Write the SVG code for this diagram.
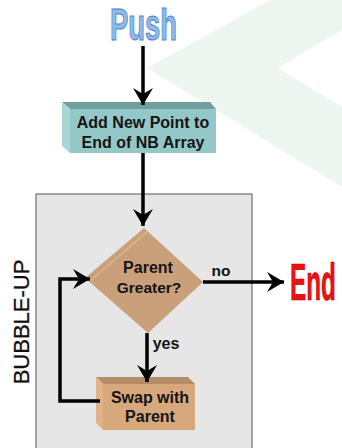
<svg xmlns="http://www.w3.org/2000/svg" width="342" height="448" viewBox="0 0 342 448">
<style>
.lbl{font-family:"Liberation Sans",Arial,sans-serif;font-weight:bold;fill:#141414;text-anchor:middle}
.conn{stroke:#000;stroke-width:3.5;fill:none}
.title{font-family:"Liberation Sans Narrow","Liberation Sans",Arial,sans-serif;font-weight:bold}
</style>
<defs>
<marker id="ah" markerUnits="userSpaceOnUse" markerWidth="24" markerHeight="24" viewBox="-18 -12 20 24" refX="0" refY="0" orient="auto">
<path d="M0,0 L-17,-10 L-11,0 L-17,10 Z" fill="#000"/>
</marker>
</defs>
<rect width="342" height="448" fill="#fff"/>
<g id="background">
<path d="M147,68 L270,0 L342,0 L342,30 L278,68 L342,107 L342,187 Z" fill="#eef6f1"/>
</g>
<g id="bubble-up">
<rect x="36" y="194" width="216" height="260" fill="#e6e6e6" stroke="#555" stroke-width="1"/>
<text transform="translate(29,322) rotate(-90)" font-family="Liberation Sans,Arial,sans-serif" font-size="22" fill="#111" stroke="#111" stroke-width="0.3" text-anchor="middle">BUBBLE-UP</text>
</g>
<g id="push">
<text class="title" x="143.5" y="40" font-size="44" textLength="67" lengthAdjust="spacingAndGlyphs" text-anchor="middle" fill="#8dbbea" stroke="#4f80c2" stroke-width="1">Push</text>
</g>
<g id="add-point">
<polygon points="62,102 210,102 216,109 70,109" fill="#6f9f9f"/>
<polygon points="62,102 70,109 70,153 62,146" fill="#a9d5d5"/>
<rect x="70" y="109" width="146" height="44" fill="#94c7c7"/>
<text class="lbl" x="143" y="128" font-size="16">Add New Point to</text>
<text class="lbl" x="143" y="148" font-size="16">End of NB Array</text>
</g>
<g id="parent-greater">
<polygon points="144,228 203,282 148,333 85,278" fill="#c9a079"/>
<line x1="147" y1="232" x2="90" y2="281" stroke="#dcb892" stroke-width="1.2"/>
<text class="lbl" x="148" y="273" font-size="16">Parent</text>
<text class="lbl" x="149" y="293" font-size="15.5">Greater?</text>
</g>
<g id="swap">
<polygon points="96,377 188,377 195,384 103,384" fill="#b48c66"/>
<polygon points="96,377 103,384 103,430 96,423" fill="#e0b488"/>
<rect x="103" y="384" width="92" height="46" fill="#d6a87c"/>
<text class="lbl" x="150" y="403" font-size="16">Swap with</text>
<text class="lbl" x="150" y="422" font-size="16">Parent</text>
</g>
<g id="end">
<text class="title" x="313" y="300" font-size="52" textLength="46" lengthAdjust="spacingAndGlyphs" text-anchor="middle" fill="#ee1111" stroke="#a00" stroke-width="0.6">End</text>
</g>
<g id="connectors">
<line class="conn" x1="143" y1="46" x2="143" y2="105" marker-end="url(#ah)"/>
<line class="conn" x1="143" y1="153" x2="143" y2="226" marker-end="url(#ah)"/>
<line class="conn" x1="203" y1="282" x2="284" y2="282" marker-end="url(#ah)"/>
<line class="conn" x1="147" y1="333" x2="147" y2="382" marker-end="url(#ah)"/>
<polyline class="conn" points="100,401 60,401 60,279 90,279" marker-end="url(#ah)"/>
<text class="lbl" x="221" y="276" font-size="15.5">no</text>
<text class="lbl" x="166" y="349" font-size="16">yes</text>
</g>
</svg>
